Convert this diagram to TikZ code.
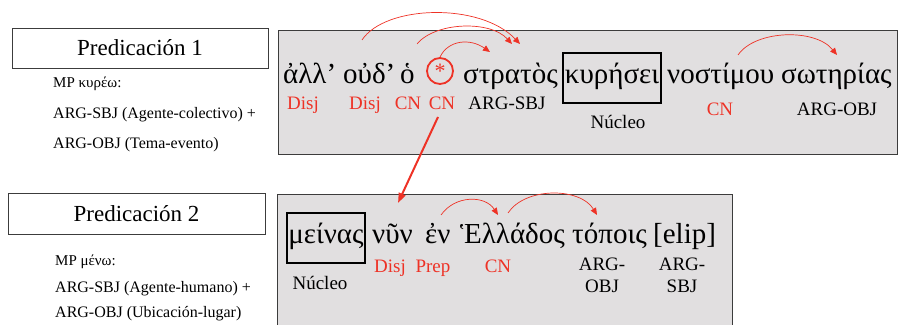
\documentclass[tikz,border=0pt]{standalone}
\usepackage{fontspec}
\setmainfont{Liberation Serif}
\usetikzlibrary{arrows.meta, positioning, calc}
\definecolor{panelgray}{RGB}{225,223,224}
\definecolor{relred}{RGB}{238,50,38}
\definecolor{framegray}{RGB}{60,60,60}

\tikzset{
  greek/.style={anchor=base west, inner sep=0pt, font=\fontsize{29}{32}\selectfont},
  role/.style={anchor=base, inner sep=0pt, font=\fontsize{19}{22}\selectfont},
  redrole/.style={role, text=relred},
  info/.style={anchor=base west, inner sep=0pt, font=\fontsize{16}{18}\selectfont},
  predbox/.style={draw=framegray, line width=0.8pt, inner sep=0pt, font=\fontsize{23}{26}\selectfont},
  nucleus/.style={greek, anchor=base, draw=black, line width=2pt, inner xsep=1.5pt, inner ysep=0pt, text height=30pt, text depth=20pt},
  relarc/.style={draw=relred, line width=0.7pt, -{Triangle[length=7pt,width=6pt]}},
}

\begin{document}
\begin{tikzpicture}[x=1pt, y=-1pt]
    \useasboundingbox (0,0) rectangle (899,324);

    % Predication 1
    \node[predbox, minimum width=256pt, minimum height=40pt] (pred1) at (140,48) {Predicación 1};
    \node[info, font=\fontsize{15}{17}\selectfont] (mp1) at (53,87) {MP κυρέω:};
    \node[info] (sbj1) at (53,118) {ARG-SBJ (Agente-colectivo) +};
    \node[info] (obj1) at (53,148) {ARG-OBJ (Tema-evento)};

    % Panel 1
    \fill[panelgray] (278,30) rectangle (897,154);
    \draw[framegray, line width=0.8pt] (278,30) rectangle (897,154);

    \node[greek] (all) at (283,83) {ἀλλ’};
    \node[greek] (oud) at (343,83) {οὐδ’};
    \node[greek] (ho) at (400,83) {ὁ};
    \node[circle, draw=relred, line width=1.8pt, minimum size=26pt, inner sep=0pt,
          text=relred, font=\fontsize{22}{22}\selectfont] (gap) at (440,71) {*};
    \node[greek] (strat) at (463,83) {στρατὸς};
    \node[nucleus] (kyr) at (612,83) {κυρήσει};
    \node[greek] (nost) at (667,83) {νοστίμου};
    \node[greek] (sot) at (781,83) {σωτηρίας};

    \node[redrole] (l1a) at (303,109) {Disj};
    \node[redrole] (l1b) at (365,109) {Disj};
    \node[redrole] (l1c) at (408,109) {CN};
    \node[redrole] (l1d) at (442,109) {CN};
    \node[role] (l1e) at (507,109) {ARG-SBJ};
    \node[role] (l1f) at (618,128) {Núcleo};
    \node[redrole] (l1g) at (720,115) {CN};
    \node[role] (l1h) at (837,115) {ARG-OBJ};

    % Arc ends, row 1
    \coordinate (oud-top) at (362,40);
    \coordinate (ho-top) at (417,44);
    \coordinate (strat-a) at (520,44);
    \coordinate (strat-b) at (512,44);
    \coordinate (strat-c) at (490,52);
    \coordinate (nost-top) at (738,55);
    \coordinate (sot-top) at (837,55);

    \draw[relarc] (oud-top) .. controls (385,5) and (480,2) .. (strat-a);
    \draw[relarc] (ho-top) .. controls (435,22) and (490,20) .. (strat-b);
    \draw[relarc] (gap.north) .. controls (448,40) and (470,38) .. (strat-c);
    \draw[relarc] (nost-top) .. controls (755,30) and (815,28) .. (sot-top);

    % Predication 2
    \node[predbox, minimum width=257pt, minimum height=41pt] (pred2) at (136.5,213.5) {Predicación 2};
    \node[info, font=\fontsize{15}{17}\selectfont] (mp2) at (55,265) {MP μένω:};
    \node[info] (sbj2) at (55,292) {ARG-SBJ (Agente-humano) +};
    \node[info] (obj2) at (55,317) {ARG-OBJ (Ubicación-lugar)};

    % Panel 2 (runs off the bottom)
    \fill[panelgray] (277,194) rectangle (732,330);
    \draw[framegray, line width=0.8pt] (277,330) -- (277,194) -- (732,194) -- (732,330);

    \node[nucleus] (mein) at (326,243) {μείνας};
    \node[greek] (nyn) at (372,243) {νῦν};
    \node[greek] (en) at (425,243) {ἐν};
    \node[greek] (hell) at (460,243) {Ἑλλάδος};
    \node[greek] (top) at (572,243) {τόποις};
    \node[greek] (elip) at (653,243) {[elip]};

    \node[role] (l2a) at (320,289) {Núcleo};
    \node[redrole] (l2b) at (390,272) {Disj};
    \node[redrole] (l2c) at (433,272) {Prep};
    \node[redrole] (l2d) at (498,272) {CN};
    \node[role, align=center] (l2e) at (602,292) {ARG-\\OBJ};
    \node[role, align=center] (l2f) at (682,292) {ARG-\\SBJ};

    % Arc ends, row 2
    \coordinate (en-top) at (441,215);
    \coordinate (hell-a) at (498,215);
    \coordinate (hell-b) at (508,213);
    \coordinate (top-top) at (597,215);

    \draw[relarc] (en-top) .. controls (455,195) and (485,195) .. (hell-a);
    \draw[relarc] (hell-b) .. controls (525,187) and (580,187) .. (top-top);

    % Link between the predications
    \coordinate (cn-foot) at (438,117);
    \coordinate (nyn-top) at (398,203);
    \draw[relred, line width=2pt, -{Triangle[length=10pt,width=7pt]}] (cn-foot) -- (nyn-top);
\end{tikzpicture}
\end{document}
